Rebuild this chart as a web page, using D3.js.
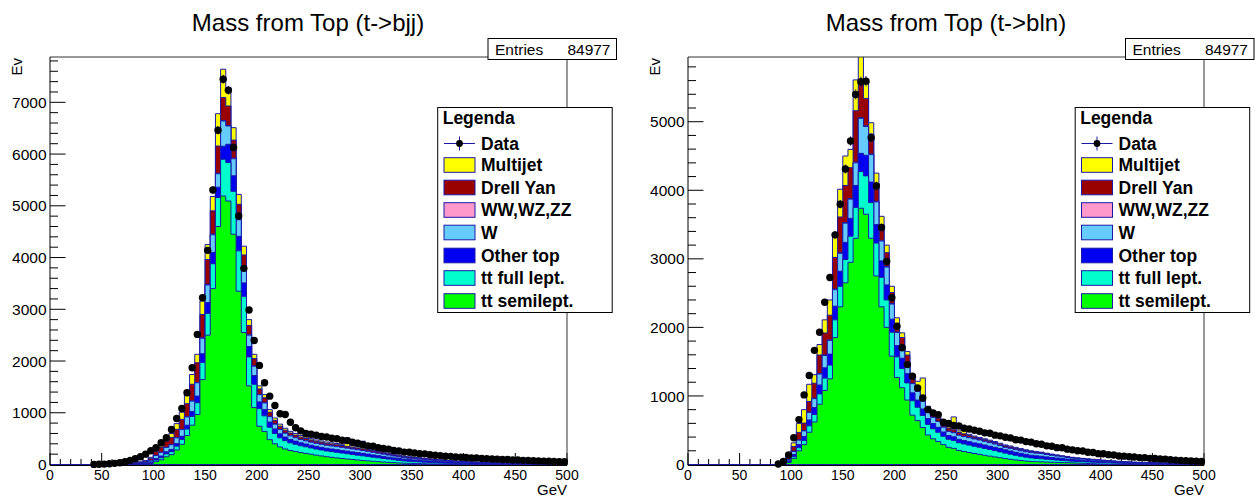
<!DOCTYPE html>
<html><head><meta charset="utf-8">
<script src="https://cdn.jsdelivr.net/npm/d3@7"></script>
<style>
body{margin:0;background:#fff;}
svg{display:block;font-family:"Liberation Sans",Arial,Helvetica,sans-serif;}
</style></head><body>
<svg id="chart" width="1258" height="499"></svg>
<script>
// ---------------- DATA ----------------
const binWidth = 5;
const xTicks = [0,50,100,150,200,250,300,350,400,450,500];
const componentNames = ["tt semilept.","tt full lept.","Other top","W","WW,WZ,ZZ","Drell Yan","Multijet"]; // bottom -> top
const componentColors = ["#00ff00","#00ffcc","#0000f0","#66ccff","#ff99cc","#990000","#ffff00"];
const legendNames = ["Multijet","Drell Yan","WW,WZ,ZZ","W","Other top","tt full lept.","tt semilept."];
const titles = ["Mass from Top (t->bjj)","Mass from Top (t->bln)"];
const entries = [84977, 84977];
const yTicksBjj = [0,1000,2000,3000,4000,5000,6000,7000];
const yTicksBln = [0,1000,2000,3000,4000,5000];

// t->bjj : bins of 5 GeV starting at 40 GeV
const bjjStart = 40;
const bjjSemi = [0,0,0,0,0,0,1,2,3,5,8,20,
 55,90,150,190,280,390,560,760,967,1640,
 2500,3400,4600,5190,5093,4450,3350,2550,1520,1100,
 740,640,480,400,340,300,270,250,230,215,
 200,180,165,150,138,127,116,106,96,87,
 78,70,62,55,48,42,36,30,26,23,
 20,17,14,12,10,8,6,5,4,3,
 2,2,1,1,1,1,0,0,0,0,
 0,0,0,0,0,0,0,0,0,0];
const bjjFull = [0,0,0,0,0,0,1,2,3,5,7,14,
 30,40,55,60,75,95,125,170,226,330,
 420,480,560,709,742,830,780,700,560,450,
 340,300,240,200,175,160,148,140,132,126,
 120,118,115,112,110,108,105,102,98,94,
 90,86,80,74,68,62,56,50,44,40,
 36,33,30,27,24,22,20,18,15,13,
 11,9,8,7,6,5,5,4,4,3,
 3,3,2,2,2,2,1,1,1,1];
const bjjOtherTop = [0,0,0,0,1,1,2,3,5,7,10,16,
 30,35,40,42,50,60,75,95,129,170,
 210,220,200,252,354,300,280,260,200,170,
 130,120,100,88,78,70,66,62,58,56,
 54,54,53,52,52,52,52,51,50,49,
 48,46,44,42,40,38,36,34,32,31,
 30,29,28,27,26,25,24,23,22,21,
 20,19,18,17,16,15,14,13,12,11,
 10,9,8,7,7,6,6,5,5,4];
const bjjW = [0,0,0,1,1,3,4,6,9,12,18,30,
 60,70,85,90,110,130,160,200,258,300,
 340,340,260,489,354,330,320,280,220,180,
 140,130,105,92,82,75,70,66,62,60,
 57,58,58,58,58,58,58,57,56,55,
 54,52,50,47,44,40,36,32,28,26,
 25,24,22,20,18,16,14,12,11,10,
 9,8,7,6,5,5,4,4,3,3,
 3,2,2,2,2,2,2,2,1,1];
const bjjDiboson = [0,0,0,0,0,0,0,0,0,0,0,1,
 2,2,3,3,4,4,5,6,5,8,
 10,12,10,10,10,10,10,10,8,7,
 6,6,5,5,4,4,4,3,3,3,
 3,3,3,3,3,3,3,3,3,3,
 3,2,2,2,2,2,2,2,1,1,
 1,1,1,1,1,1,1,1,1,1,
 1,1,1,1,0,0,0,0,0,0,
 0,0,0,0,0,0,0,0,0,0];
const bjjDY = [0,0,0,1,2,3,5,7,11,15,22,40,
 80,100,120,135,160,190,250,320,381,450,
 480,450,525,443,376,350,290,250,180,140,
 105,95,80,70,62,55,50,47,44,42,
 40,38,37,36,35,34,33,32,31,30,
 29,27,26,25,24,23,22,21,19,19,
 18,17,16,15,14,13,12,11,10,9,
 8,7,6,5,5,4,4,3,3,3,
 2,2,2,2,1,1,1,1,1,1];
const bjjMultijet = [0,0,0,0,0,1,1,2,4,6,10,19,
 43,53,67,80,111,141,175,189,164,262,
 290,278,625,547,357,240,190,170,112,83,
 59,59,50,45,39,36,32,32,31,28,
 26,24,24,24,24,23,23,165,26,22,
 148,17,16,15,14,13,12,11,10,10,
 10,9,9,8,7,7,7,7,7,7,
 7,7,7,7,7,7,7,7,6,6,
 6,6,6,5,5,5,5,5,5,5];
const bjjData = [2,5,8,14,22,35,52,80,110,150,200,265,
 323,419,516,677,890,1083,1387,1870,2515,3224,
 4139,5306,6460,7447,7234,6126,4803,3791,2985,2398,
 1915,1580,1321,1141,980,967,818,709,650,600,
 585,566,540,532,506,498,470,462,430,410,
 382,360,352,326,310,298,272,262,240,236,
 222,210,206,188,180,172,160,158,146,140,
 136,128,126,116,114,106,104,97,96,88,
 86,80,79,72,70,66,62,60,55,53];

// t->bln : bins of 5 GeV starting at 85 GeV
const blnStart = 85;
const blnSemi = [0,4,30,
 90,200,290,470,620,880,1080,1250,1850,2300,
 2650,2950,3300,3738,3650,3300,2750,2300,2000,1580,
 1270,1120,940,720,640,540,430,375,335,290,
 250,235,205,190,175,160,148,135,122,110,
 98,86,76,66,58,51,45,41,39,36,
 33,30,28,26,24,21,18,15,12,9,
 6,4,3,2,2,1,1,1,0,0,
 0,0,0,0,0,0,0,0,0,0];
const blnFull = [0,2,10,
 25,45,60,95,110,150,180,200,260,300,
 340,380,450,534,560,520,480,430,400,350,
 300,280,250,210,195,175,155,145,135,122,
 118,116,112,110,108,106,104,100,96,92,
 86,80,74,68,62,56,51,47,44,40,
 37,34,30,27,25,24,23,22,22,21,
 20,20,18,16,14,13,12,11,10,9,
 8,7,6,6,5,5,4,4,4,3];
const blnOtherTop = [0,4,14,
 30,45,60,85,100,130,150,160,200,220,
 250,260,320,267,300,300,270,240,220,190,
 165,150,135,115,105,95,85,78,72,62,
 55,53,51,50,50,49,49,49,49,49,
 49,48,47,45,43,41,40,39,38,35,
 32,30,28,26,24,23,22,21,20,18,
 17,15,14,13,12,11,10,9,9,9,
 9,8,8,7,7,6,6,6,5,5];
const blnW = [0,5,20,
 45,65,80,110,130,160,180,200,240,260,
 280,280,330,510,420,400,330,290,260,220,
 190,175,160,135,125,115,100,90,85,70,
 60,60,58,58,58,58,56,54,52,48,
 42,36,38,38,38,38,38,38,39,35,
 32,29,26,24,19,17,16,15,14,13,
 12,11,10,9,8,7,6,5,5,4,
 4,4,3,3,3,3,3,2,2,2];
const blnDiboson = [0,0,1,
 2,3,4,5,6,7,8,8,10,10,
 10,10,10,10,10,10,10,10,9,8,
 7,7,6,5,5,5,4,4,4,3,
 3,3,3,3,3,3,3,3,3,3,
 3,2,2,2,2,2,2,2,2,1,
 1,1,1,1,1,1,1,0,0,0,
 0,0,0,0,0,0,0,0,0,0,
 0,0,0,0,0,0,0,0,0,0];
const blnDY = [0,6,30,
 70,110,110,155,220,270,320,360,460,520,
 540,450,750,500,400,290,260,220,200,160,
 130,120,105,80,75,65,50,45,45,45,
 46,40,38,36,30,25,22,21,20,20,
 19,20,20,18,17,16,14,12,10,10,
 10,9,8,8,7,6,5,5,4,4,
 4,3,3,3,2,2,2,2,2,2,
 1,1,1,1,1,1,1,1,1,1];
const blnMultijet = [0,3,16,
 54,132,196,250,124,153,192,222,350,405,
 430,267,450,941,260,165,150,130,111,92,
 78,68,54,35,69,267,26,23,24,28,
 28,187,23,102,16,14,13,13,13,13,
 13,13,13,13,12,11,10,9,8,8,
 7,7,7,6,5,5,5,5,5,5,
 5,5,4,4,4,4,4,4,4,4,
 4,4,4,4,4,4,4,4,4,4];
const blnData = [8,45,140,
 390,655,1015,1298,1665,1930,2366,2728,3350,3796,
 4311,4718,5398,5583,5592,4767,4063,3456,2962,2432,
 2015,1704,1457,1287,1117,971,801,753,728,617,
 597,570,561,528,518,500,486,462,456,428,
 418,398,388,362,356,334,326,302,296,272,
 266,246,244,224,214,200,196,178,174,158,
 156,144,138,124,122,112,110,101,100,90,
 87,81,79,69,64,59,56,52,49,44];

// ---------------- DRAWING ----------------
const svg = d3.select("#chart");
svg.append("rect").attr("width",1258).attr("height",499).attr("fill","#fff");
const defs = svg.append("defs");
const outline = "#1a1aa6";

const panels = [
  {id:"bjj", dx:0, left:50, right:567, ymax:7876, yTicks:yTicksBjj, start:bjjStart,
   series:[bjjSemi,bjjFull,bjjOtherTop,bjjW,bjjDiboson,bjjDY,bjjMultijet], data:bjjData,
   title:titles[0], titleX:308, entries:entries[0]},
  {id:"bln", dx:637.5, left:688, right:1204, ymax:5944, yTicks:yTicksBln, start:blnStart,
   series:[blnSemi,blnFull,blnOtherTop,blnW,blnDiboson,blnDY,blnMultijet], data:blnData,
   title:titles[1], titleX:946, entries:entries[1]}
];

panels.forEach(p => {
  const top = 57, bottom = 464.5;
  const x = d3.scaleLinear().domain([0,500]).range([p.left, p.right]);
  const y = d3.scaleLinear().domain([0,p.ymax]).range([bottom, top]);
  const g = svg.append("g");

  defs.append("clipPath").attr("id","clip-"+p.id)
    .append("rect").attr("x",p.left).attr("y",top).attr("width",p.right-p.left).attr("height",bottom-top+1);

  // x ticks (inside frame)
  const xMinor = d3.range(0, 501, 10);
  g.append("g").selectAll("line").data(xMinor).join("line")
    .attr("x1", d => x(d)).attr("x2", d => x(d))
    .attr("y1", 465).attr("y2", d => 465 - (d % 50 === 0 ? 12 : 6))
    .attr("stroke","#000").attr("stroke-width",1);
  // y ticks
  const yMinor = d3.range(0, p.ymax, 200);
  g.append("g").selectAll("line").data(yMinor).join("line")
    .attr("x1", p.left).attr("x2", d => p.left + (d % 1000 === 0 ? 15.5 : 8))
    .attr("y1", d => y(d)).attr("y2", d => y(d))
    .attr("stroke","#000").attr("stroke-width",1);

  // stacked histograms
  const bins = d3.range(0, 500, binWidth);
  const n = p.series[0].length;
  const cum = [];
  let run = new Array(n).fill(0);
  p.series.forEach(s => { run = run.map((v,i) => v + s[i]); cum.push(run.slice()); });
  const area = d3.area().curve(d3.curveStepAfter)
    .x(d => x(d.m)).y0(y(0)).y1(d => y(d.v));
  const hg = g.append("g").attr("clip-path","url(#clip-"+p.id+")");
  for (let k = cum.length - 1; k >= 0; k--) {
    const pts = bins.map(m => {
      const idx = (m - p.start) / binWidth;
      return {m, v: (idx >= 0 && idx < n) ? cum[k][idx] : 0};
    });
    pts.push({m:500, v: pts[pts.length-1].v});
    hg.append("path").attr("d", area(pts))
      .attr("fill", componentColors[k]).attr("stroke", outline).attr("stroke-width",1);
  }

  // frame & axes
  g.append("line").attr("x1",p.left).attr("x2",p.right).attr("y1",top).attr("y2",top).attr("stroke","#333");
  g.append("line").attr("x1",p.right).attr("x2",p.right).attr("y1",top).attr("y2",465.5).attr("stroke","#333");
  g.append("line").attr("x1",p.left).attr("x2",p.left).attr("y1",top).attr("y2",465.5).attr("stroke","#000");
  g.append("line").attr("x1",p.left).attr("x2",p.right).attr("y1",465.5).attr("y2",465.5).attr("stroke","#000");

  // data points
  const pts = p.data.map((v,i) => ({m: p.start + i*binWidth + binWidth/2, v})).filter(d => d.v > 0);
  const dg = g.append("g");
  dg.selectAll("line.ev").data(pts).join("line").attr("class","ev")
    .attr("x1", d => x(d.m)).attr("x2", d => x(d.m))
    .attr("y1", d => y(d.v - Math.sqrt(d.v))).attr("y2", d => y(d.v + Math.sqrt(d.v)))
    .attr("stroke", outline).attr("stroke-width",1);
  dg.selectAll("line.eh").data(pts).join("line").attr("class","eh")
    .attr("x1", d => x(d.m - binWidth/2)).attr("x2", d => x(d.m + binWidth/2))
    .attr("y1", d => y(d.v)).attr("y2", d => y(d.v))
    .attr("stroke", outline).attr("stroke-width",1);
  dg.selectAll("circle").data(pts).join("circle")
    .attr("cx", d => x(d.m)).attr("cy", d => y(d.v)).attr("r",3.7).attr("fill","#000");

  // tick labels
  g.append("g").selectAll("text").data(p.yTicks).join("text")
    .attr("x", p.left - 3.5).attr("y", d => y(d)).attr("dy","0.36em")
    .attr("text-anchor","end").attr("font-size","15.5px").attr("fill","#000").text(d => d);
  g.append("g").selectAll("text").data(xTicks).join("text")
    .attr("x", d => x(d)).attr("y", 480)
    .attr("text-anchor","middle").attr("font-size","14px").attr("fill","#000").text(d => d);

  // axis titles
  g.append("text").attr("transform","translate("+(p.left-28.5)+",58) rotate(-90)")
    .attr("text-anchor","end").attr("font-size","15px").text("Ev");
  g.append("text").attr("x",p.right).attr("y",495).attr("text-anchor","end").attr("font-size","15px").text("GeV");

  // title
  g.append("text").attr("x",p.titleX).attr("y",31).attr("text-anchor","middle").attr("font-size","24px").text(p.title);

  // stats box
  const sx = 488 + p.dx;
  g.append("rect").attr("x",sx).attr("y",38.5).attr("width",128.5).attr("height",21).attr("fill","#fff").attr("stroke","#000");
  g.append("text").attr("x",sx+7).attr("y",55).attr("font-size","15.5px").text("Entries");
  g.append("text").attr("x",sx+122.5).attr("y",55).attr("text-anchor","end").attr("font-size","15.5px").text(p.entries);

  // legend
  const lx = 437.7 + p.dx;
  const lg = g.append("g");
  lg.append("rect").attr("x",lx).attr("y",107.5).attr("width",174.5).attr("height",205)
    .attr("fill","#fff").attr("stroke","#000");
  lg.append("text").attr("x",lx+5).attr("y",124).attr("font-size","17.5px").attr("font-weight","bold").text("Legenda");
  const swX = lx + 6.3, swW = 31, txtX = lx + 43.3;
  // data entry
  lg.append("line").attr("x1",swX).attr("x2",swX+swW).attr("y1",143.5).attr("y2",143.5).attr("stroke",outline);
  lg.append("line").attr("x1",swX+swW/2).attr("x2",swX+swW/2).attr("y1",136.5).attr("y2",150.5).attr("stroke",outline);
  lg.append("circle").attr("cx",swX+swW/2).attr("cy",143.5).attr("r",3.4).attr("fill","#000");
  lg.append("text").attr("x",txtX).attr("y",149.5).attr("font-size","17.5px").attr("font-weight","bold").text("Data");
  const rowY = [165,187.5,210,232.5,255.5,278,301];
  legendNames.forEach((name,i) => {
    const ci = componentNames.indexOf(name);
    lg.append("rect").attr("x",swX).attr("y",rowY[i]-7.3).attr("width",swW).attr("height",14.6)
      .attr("fill",componentColors[ci]).attr("stroke",outline);
    lg.append("text").attr("x",txtX).attr("y",rowY[i]+6).attr("font-size","17.5px").attr("font-weight","bold").text(name);
  });
});
</script>
</body></html>
